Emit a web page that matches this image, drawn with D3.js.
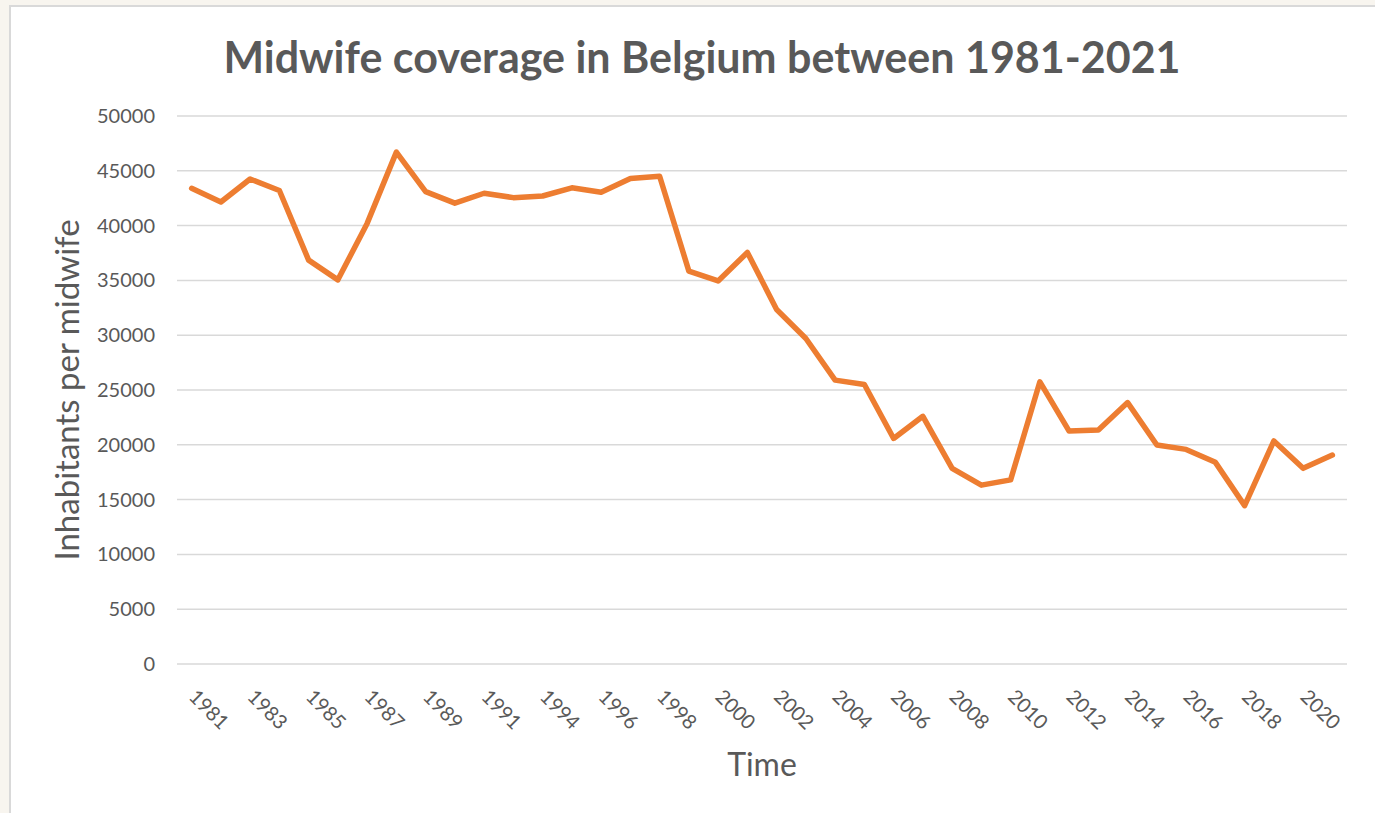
<!DOCTYPE html>
<meta charset="utf-8">

<!-- Load d3.js -->
<script src="https://d3js.org/d3.v7.min.js"></script>

<style>
  body {
    margin: 0;
    background-color: #f8f5ef;
  }
  text {
    font-family: Lato, "Open Sans", sans-serif;
  }
</style>

<!-- Create a div where the graph will take place -->
<div id="chart"></div>

<script>

// data (1992 or 1993 is missing in the source)
var years = ["1981","1982","1983","1984","1985","1986","1987","1988","1989","1990",
             "1991","1992","1994","1995","1996","1997","1998","1999","2000","2001",
             "2002","2003","2004","2005","2006","2007","2008","2009","2010","2011",
             "2012","2013","2014","2015","2016","2017","2018","2019","2020","2021"]
var inhabitants = [43400, 42150, 44250, 43200, 36850, 35050, 40200, 46700, 43100, 42050,
                   42950, 42550, 42700, 43450, 43050, 44300, 44500, 35850, 34950, 37550,
                   32350, 29700, 25900, 25500, 20580, 22600, 17850, 16320, 16800, 25750,
                   21250, 21350, 23850, 19980, 19580, 18400, 14450, 20350, 17850, 19060]
var yTicks = [0, 5000, 10000, 15000, 20000, 25000, 30000, 35000, 40000, 45000, 50000]

var data = years.map(function(y, i) { return {year: y, value: inhabitants[i]} })

// set the dimensions and margins of the graph
var W = 1375, H = 813
var margin = {top: 116, right: 28, bottom: 149, left: 177},
    width = W - margin.left - margin.right,
    height = H - margin.top - margin.bottom;

var root = d3.select("#chart")
  .append("svg")
    .attr("width", W)
    .attr("height", H)

// white chart panel with thin grey edge
root.append("rect")
  .attr("x", 10)
  .attr("y", 6)
  .attr("width", W)
  .attr("height", H)
  .style("fill", "white")
  .style("stroke", "#d9d9d9")
  .style("stroke-width", 2)

var svg = root.append("g")
  .attr("transform", "translate(" + margin.left + "," + margin.top + ")");

// X scale: one band per year, points sit in the middle of the band
var x = d3.scaleBand()
  .domain(years)
  .range([0, width])

var y = d3.scaleLinear()
  .domain([0, 50000])
  .range([height, 0])

// gridlines
svg.append("g")
  .selectAll("line")
  .data(yTicks)
  .enter()
  .append("line")
    .attr("x1", 0)
    .attr("x2", width)
    .attr("y1", function(d) { return y(d) })
    .attr("y2", function(d) { return y(d) })
    .style("stroke", "#d9d9d9")
    .style("stroke-width", 1.5)

// Y axis
var yAxis = svg.append("g")
  .call(d3.axisLeft(y).tickValues(yTicks).tickFormat(d3.format("d")).tickSize(0).tickPadding(22))
yAxis.select(".domain").remove()
yAxis.selectAll("text")
  .style("font-size", "20px")
  .style("fill", "#595959")

// X axis, every other year labelled, labels turned 45 degrees
var xAxis = svg.append("g")
  .attr("transform", "translate(0," + height + ")")
  .call(d3.axisBottom(x).tickValues(years.filter(function(d, i) { return i % 2 == 0 })).tickSize(0))
xAxis.select(".domain").remove()
xAxis.selectAll("text")
  .attr("x", 0)
  .attr("y", 0)
  .attr("dy", 0)
  .attr("transform", "translate(-4,34) rotate(45)")
  .style("text-anchor", "start")
  .style("font-size", "20px")
  .style("fill", "#595959")

// the line
svg.append("path")
  .datum(data)
  .attr("fill", "none")
  .attr("stroke", "#ed7d31")
  .attr("stroke-width", 5.5)
  .attr("stroke-linejoin", "round")
  .attr("stroke-linecap", "round")
  .attr("d", d3.line()
    .x(function(d) { return x(d.year) + x.bandwidth() / 2 })
    .y(function(d) { return y(d.value) })
  )

// Add title to graph
root.append("text")
  .attr("x", 702)
  .attr("y", 73)
  .attr("text-anchor", "middle")
  .style("font-size", "43px")
  .style("font-weight", "bold")
  .style("fill", "#595959")
  .text("Midwife coverage in Belgium between 1981-2021");

// axis titles
root.append("text")
  .attr("x", margin.left + width / 2)
  .attr("y", 776)
  .attr("text-anchor", "middle")
  .style("font-size", "32px")
  .style("fill", "#595959")
  .text("Time");

root.append("text")
  .attr("transform", "translate(79," + (margin.top + height / 2) + ") rotate(-90)")
  .attr("text-anchor", "middle")
  .style("font-size", "33px")
  .style("fill", "#595959")
  .text("Inhabitants per midwife");

</script>
